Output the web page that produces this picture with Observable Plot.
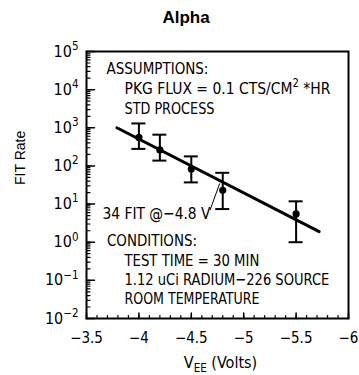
<!DOCTYPE html>
<html><head><meta charset="utf-8">
<script src="https://cdn.jsdelivr.net/npm/d3@7"></script>
<script src="https://cdn.jsdelivr.net/npm/@observablehq/plot@0.6"></script>
<style>html,body{margin:0;padding:0;background:#fff;}</style>
</head><body><div id="chart"></div>
<script>
// ---- data ----
const voltages     = [-4.0, -4.2, -4.5, -4.8, -5.5];
const fitRate      = [560, 263, 83, 23, 5.5];
const fitRateHigh  = [1300, 660, 178, 66, 11.8];
const fitRateLow   = [280, 138, 37, 7.4, 1.0];
const trendVoltages = [-3.79, -5.72];
const trendRates    = [1000, 1.9];
const calloutVoltages = [-4.68, -4.77];
const calloutRates    = [7.1, 34];
const xTickValues = [-3.5, -4, -4.5, -5, -5.5, -6];
const xTickLabels = ["−3.5", "−4", "−4.5", "−5", "−5.5", "−6"];
const yTickValues = [1e-2, 1e-1, 1e0, 1e1, 1e2, 1e3, 1e4, 1e5];
const yTickExponents = ["−2", "−1", "0", "1", "2", "3", "4", "5"];
const titleText = ["Alpha"];
const xLabel = ["V_{EE} (Volts)"];
const yLabel = ["FIT Rate"];
const annotationLines = [
  "ASSUMPTIONS:",
  "PKG FLUX = 0.1 CTS/CM^{2} *HR",
  "STD PROCESS",
  "34 FIT @−4.8 V",
  "CONDITIONS:",
  "TEST TIME = 30 MIN",
  "1.12 uCi RADIUM−226 SOURCE",
  "ROOM TEMPERATURE"
];
// layout: [dx, dy] from the frame's top-left corner and rendered width (px)
const annotationLayout = [
  [20, 11, 102], [38, 31, 206], [38, 50.5, 90], [16, 155.5, 108],
  [20.5, 183, 90], [38, 202.5, 135], [38, 222, 205], [38, 241, 135]
];

const NARROW = '"Liberation Sans Narrow", "DejaVu Sans Condensed", "Liberation Sans", Arial, sans-serif';
const SANS = '"Liberation Sans", Arial, sans-serif';

const points = voltages.map((v, i) => ({v, rate: fitRate[i], hi: fitRateHigh[i], lo: fitRateLow[i]}));
const trend = trendVoltages.map((v, i) => ({v, rate: trendRates[i]}));
const callout = calloutVoltages.map((v, i) => ({v, rate: calloutRates[i]}));

const yAll = d3.scaleLog().domain([1e-2, 1e5]).ticks();
const xMinor = d3.ticks(-6, -3.5, 25);
const tickShape = {draw(ctx, l) { ctx.moveTo(0, 0); ctx.lineTo(0, -l); }};

const marks = [
  // inward ticks
  Plot.vector(yAll, {y: d => d, frameAnchor: "left", rotate: 90, length: 3.5, anchor: "start", shape: tickShape, stroke: "black", strokeWidth: 1.2}),
  Plot.vector(yTickValues, {y: d => d, frameAnchor: "left", rotate: 90, length: 8, anchor: "start", shape: tickShape, stroke: "black", strokeWidth: 1.5}),
  Plot.vector(xMinor, {x: d => d, frameAnchor: "bottom", rotate: 0, length: 3, anchor: "start", shape: tickShape, stroke: "black", strokeWidth: 1.2}),
  Plot.vector(xTickValues, {x: d => d, frameAnchor: "bottom", rotate: 0, length: 5.5, anchor: "start", shape: tickShape, stroke: "black", strokeWidth: 1.5}),
  Plot.axisX({ticks: xTickValues, tickSize: 0, tickPadding: 14, tickFormat: d => xTickLabels[xTickValues.indexOf(d)], fontSize: 15, fontFamily: NARROW, label: null}),
  Plot.axisY({ticks: yTickValues, tickSize: 0, tickPadding: 8, tickFormat: d => "10^{" + yTickExponents[yTickValues.indexOf(d)] + "}", fontSize: 16, fontFamily: NARROW, label: null}),
  Plot.frame({stroke: "black", strokeWidth: 2}),
  // fit line
  Plot.line(trend, {x: "v", y: "rate", stroke: "black", strokeWidth: 3}),
  // error bars
  Plot.ruleX(points, {x: "v", y1: "lo", y2: "hi", stroke: "black", strokeWidth: 2}),
  Plot.ruleY(points, {x1: "v", x2: "v", y: "hi", insetLeft: -7, insetRight: -7, stroke: "black", strokeWidth: 2}),
  Plot.ruleY(points, {x1: "v", x2: "v", y: "lo", insetLeft: -7, insetRight: -7, stroke: "black", strokeWidth: 2}),
  Plot.dot(points, {x: "v", y: "rate", r: 3.6, fill: "black", stroke: null}),
  // callout leader
  Plot.line(callout, {x: "v", y: "rate", stroke: "black", strokeWidth: 1}),
  // labels
  Plot.text(titleText, {text: d => d, frameAnchor: "top", dx: -31.5, dy: -41, lineAnchor: "top", fontSize: 17, fontWeight: "bold", fontFamily: SANS}),
  Plot.text(yLabel, {text: d => d, frameAnchor: "left", dx: -66, rotate: -90, fontSize: 14, fontFamily: SANS}),
  Plot.text(xLabel, {text: d => d, frameAnchor: "bottom", dx: 3, dy: 38.5, lineAnchor: "top", fontSize: 16, fontFamily: NARROW}),
  ...annotationLines.map((t, i) => Plot.text([t], {text: d => d, frameAnchor: "top-left", textAnchor: "start", lineAnchor: "top", dx: annotationLayout[i][0], dy: annotationLayout[i][1], fontSize: 16.5, fontFamily: NARROW}))
];

const chart = Plot.plot({
  width: 359,
  height: 375,
  marginLeft: 86,
  marginRight: 11,
  marginTop: 51,
  marginBottom: 57,
  style: {background: "white", color: "black", fontFamily: NARROW, fontSize: "16px"},
  x: {domain: [-3.5, -6]},
  y: {type: "log", domain: [1e-2, 1e5]},
  marks
});
document.getElementById("chart").appendChild(chart);

// turn ^{..} and _{..} into real superscript/subscript tspans
function richify(el) {
  const s = el.textContent;
  const re = /([\^_])\{([^}]*)\}/g;
  if (!/([\^_])\{/.test(s)) return;
  const size = parseFloat(getComputedStyle(el).fontSize) || 16;
  const NS = "http://www.w3.org/2000/svg";
  while (el.firstChild) el.removeChild(el.firstChild);
  let cur = 0, last = 0, m;
  const add = (text, off, small) => {
    if (!text) return;
    const t = document.createElementNS(NS, "tspan");
    const dy = off - cur;
    if (dy) t.setAttribute("dy", dy);
    if (small) t.setAttribute("font-size", small);
    t.textContent = text;
    el.appendChild(t);
    cur = off;
  };
  while ((m = re.exec(s))) {
    add(s.slice(last, m.index), 0, null);
    add(m[2], m[1] === "^" ? -0.42 * size : 0.22 * size, size * 0.72);
    last = re.lastIndex;
  }
  add(s.slice(last), 0, null);
}

// find annotation texts (by their raw strings) before rich formatting
const annotationEls = [];
chart.querySelectorAll("text").forEach(el => {
  const i = annotationLines.indexOf(el.textContent);
  if (i >= 0) annotationEls.push([el, i]);
});
chart.querySelectorAll("text").forEach(richify);

// squeeze annotation lines horizontally to their widths in the reference
annotationEls.forEach(([el, i]) => {
  const w = el.getComputedTextLength();
  if (w > 0) {
    const sx = annotationLayout[i][2] / w;
    el.setAttribute("transform", (el.getAttribute("transform") || "") + ` scale(${sx.toFixed(4)},1)`);
  }
});
</script>
</body></html>
